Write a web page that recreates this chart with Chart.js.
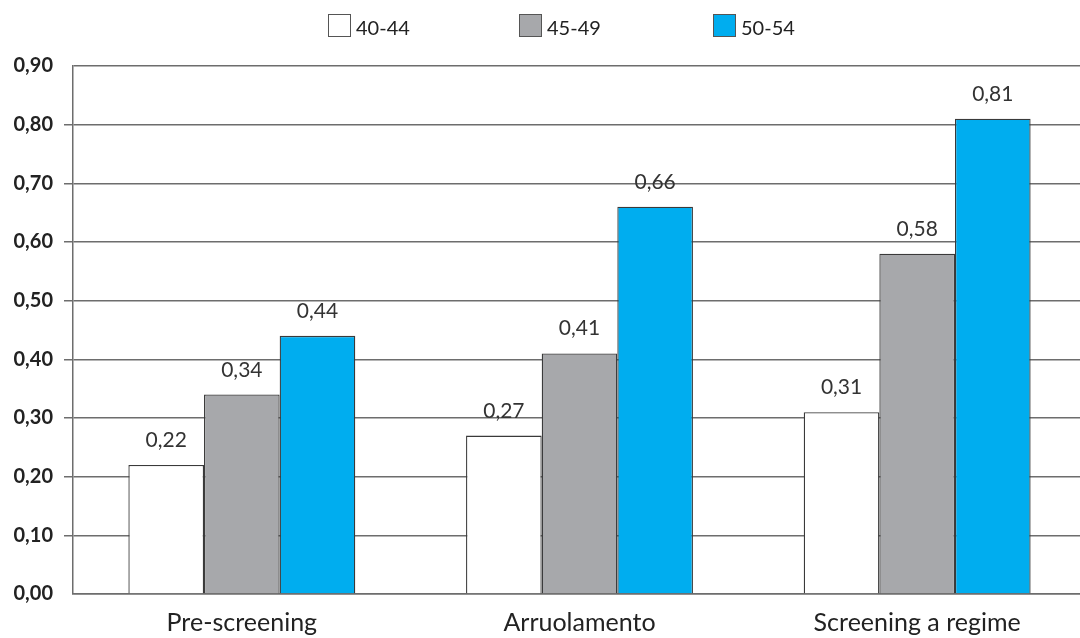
<!DOCTYPE html>
<html>
<head>
<meta charset="utf-8">
<script src="https://cdn.jsdelivr.net/npm/chart.js@4.4.1/dist/chart.umd.min.js"></script>
<style>
  html, body { margin: 0; padding: 0; background: #fff; overflow: hidden; }
  #wrap { position: relative; width: 1086px; height: 638px; }
  #legend { position: absolute; top: 14px; left: 0; width: 1080px; height: 24px;
            font-family: Lato, "Open Sans", sans-serif; font-size: 20px; color: #222; }
  .item { position: absolute; top: 0; display: flex; align-items: center; height: 23px; }
  .box { width: 21px; height: 21px; border: 1px solid #555; margin-right: 5px; }
  .item span { position: relative; top: 1px; }
</style>
</head>
<body>
<div id="wrap">
  <canvas id="c" width="1086" height="638"></canvas>
  <div id="legend"></div>
</div>
<script>
const categories = ['Pre-screening', 'Arruolamento', 'Screening a regime'];
const seriesNames = ['40-44', '45-49', '50-54'];
const values4044 = [0.22, 0.27, 0.31];
const values4549 = [0.34, 0.41, 0.58];
const values5054 = [0.44, 0.66, 0.81];
const fills = ['#ffffff', '#a7a8ab', '#00adef'];
const legendX = [328, 519, 713];

const fmt = v => v.toFixed(2).replace('.', ',');

// legend
const lg = document.getElementById('legend');
seriesNames.forEach((n, i) => {
  const d = document.createElement('div');
  d.className = 'item';
  d.style.left = legendX[i] + 'px';
  d.innerHTML = '<div class="box" style="background:' + fills[i] + '"></div><span>' + n + '</span>';
  lg.appendChild(d);
});

// value labels above each bar
const valueLabels = {
  id: 'valueLabels',
  afterDatasetsDraw(chart) {
    const ctx = chart.ctx;
    ctx.save();
    ctx.font = '21px Lato, "Open Sans", sans-serif';
    ctx.fillStyle = '#333';
    ctx.textAlign = 'center';
    ctx.textBaseline = 'alphabetic';
    chart.data.datasets.forEach((ds, di) => {
      chart.getDatasetMeta(di).data.forEach((bar, i) => {
        ctx.fillText(fmt(ds.data[i]), bar.x, bar.y - 18);
      });
    });
    ctx.restore();
  }
};

const mk = (label, data, i) => ({
  label, data,
  backgroundColor: fills[i],
  borderColor: '#3a3a3a',
  borderWidth: 1.3,
  borderSkipped: 'bottom'
});

new Chart(document.getElementById('c'), {
  type: 'bar',
  data: {
    labels: categories,
    datasets: [
      mk(seriesNames[0], values4044, 0),
      mk(seriesNames[1], values4549, 1),
      mk(seriesNames[2], values5054, 2)
    ]
  },
  options: {
    responsive: false,
    animation: false,
    layout: { padding: { top: 66, right: 0, bottom: 0, left: 0 } },
    categoryPercentage: 0.672,
    barPercentage: 1.0,
    plugins: { legend: { display: false }, tooltip: { enabled: false } },
    scales: {
      x: {
        grid: { display: false, drawTicks: false },
        border: { display: true, color: '#6d6d6d', width: 1.5 },
        ticks: { color: '#222', padding: 14, font: { family: 'Lato, "Open Sans", sans-serif', size: 25 } },
        afterFit(s) { s.height = 44; }
      },
      y: {
        min: 0, max: 0.9,
        ticks: {
          stepSize: 0.1,
          padding: 11,
          color: '#222',
          font: { family: 'Lato, "Open Sans", sans-serif', size: 20, weight: 'bold' },
          callback: v => fmt(v)
        },
        grid: {
          color: '#6d6d6d',
          lineWidth: 1.5,
          tickLength: 9,
          tickColor: ctx => (ctx.index === 0 || ctx.index === 9) ? 'rgba(0,0,0,0)' : '#6d6d6d'
        },
        border: { display: true, color: '#6d6d6d', width: 1.5 },
        afterFit(s) { s.width = 73; }
      }
    }
  },
  plugins: [valueLabels]
});
</script>
</body>
</html>
